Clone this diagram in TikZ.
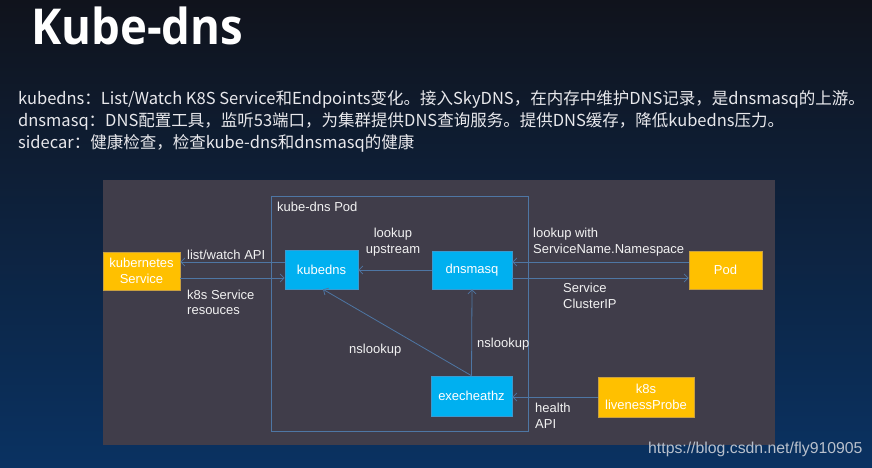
\documentclass[tikz,border=0pt]{standalone}
\usepackage{fontspec}
\usepackage{graphicx}
\setmainfont{Liberation Sans}
\newfontfamily\cjkfont{Noto Sans CJK SC}
\newfontfamily\titlefont{Open Sans}
\usetikzlibrary{arrows.meta}
\definecolor{panel}{HTML}{403D4A}
\definecolor{edge}{HTML}{4E76A4}
\definecolor{kyellow}{HTML}{FFC000}
\definecolor{kyellowb}{HTML}{C9A040}
\definecolor{kblue}{HTML}{00B0F0}
\definecolor{kblueb}{HTML}{3A9AD0}
\definecolor{txt}{HTML}{F2F2F2}
\definecolor{desc}{HTML}{E8E8EC}
\definecolor{bgtop}{HTML}{10131C}
\definecolor{bgmid}{HTML}{0D1626}
\definecolor{bgbot}{HTML}{0A3262}
\definecolor{wm}{HTML}{B8C0CC}
\begin{document}
\begin{tikzpicture}[x=1pt,y=-1pt,
  box/.style={rectangle, inner sep=0, line width=0.6pt, text=white,
    font=\fontsize{13}{15.5}\selectfont, align=center},
  ybox/.style={box, fill=kyellow, draw=kyellowb},
  bbox/.style={box, fill=kblue, draw=kblueb},
  lbl/.style={inner sep=0, text=txt, font=\fontsize{13}{15.5}\selectfont, align=left, anchor=base west},
  arr/.style={draw=edge, line width=0.8pt, -{Straight Barb[length=4pt,width=8pt]}},
  descline/.style={inner sep=0, anchor=base west, text=desc, font=\cjkfont\fontsize{16.5}{20}\selectfont}
]
\shade[top color=bgtop, middle color=bgmid, bottom color=bgbot] (0,0) rectangle (872,468);
\useasboundingbox (0,0) rectangle (872,468);

% title
\node[inner sep=0, anchor=base west, text=white] (title) at (31,45)
  {\scalebox{0.92}[1]{\titlefont\bfseries\fontsize{49.5}{55}\selectfont Kube-dns}};

% description
\node[descline] (d1) at (18,105) {kubedns：List/Watch K8S Service和Endpoints变化。接入SkyDNS，在内存中维护DNS记录，是dnsmasq的上游。};
\node[descline] (d2) at (18,126.5) {dnsmasq：DNS配置工具，监听53端口，为集群提供DNS查询服务。提供DNS缓存，降低kubedns压力。};
\node[descline] (d3) at (18,148) {sidecar：健康检查，检查kube-dns和dnsmasq的健康};

% panel
\fill[panel] (103,180) rectangle (775,445);
\node[draw=edge, line width=0.8pt, inner sep=0, minimum width=257pt, minimum height=235pt, anchor=north west] (podbox) at (271,196) {};
\node[lbl] (podlbl) at (277,211) {kube-dns Pod};

% boxes
\node[ybox, minimum width=77pt, minimum height=38pt] (ks) at (141.5,271) {kubernetes\\Service};
\node[bbox, minimum width=73pt, minimum height=39pt] (kubedns) at (321.5,269.5) {kubedns};
\node[bbox, minimum width=80pt, minimum height=38pt] (dnsmasq) at (472,270) {dnsmasq};
\node[ybox, minimum width=73pt, minimum height=38pt] (pod) at (725.5,270) {Pod};
\node[bbox, minimum width=81pt, minimum height=40pt] (exec) at (471.5,396) {execheathz};
\node[ybox, minimum width=96pt, minimum height=40pt] (probe) at (646,397) {k8s\\livenessProbe};

% connectors
\draw[arr] (kubedns.west |- 0,262) -- (ks.east |- 0,262);
\draw[arr] (ks.east |- 0,278) -- (kubedns.west |- 0,278);
\draw[arr] (dnsmasq.west |- 0,270) -- (kubedns.east |- 0,270);
\draw[arr] (pod.west |- 0,262) -- (dnsmasq.east |- 0,262);
\draw[arr] (dnsmasq.east |- 0,278) -- (pod.west |- 0,278);
\coordinate (ex) at (exec.north);
\draw[arr] (ex) -- (kubedns.south -| 323,0);
\draw[arr] (ex) -- (dnsmasq.south);
\draw[arr] (probe.west |- 0,397) -- (exec.east |- 0,397);

% labels (base anchor = baseline of last line)
\node[lbl] (l1) at (187,259) {list/watch API};
\node[lbl] (l2) at (187,314.5) {k8s Service\\resouces};
\node[lbl, align=center, anchor=base] (l3) at (393,253) {lookup\\upstream};
\node[lbl] (l4) at (533,253) {lookup with\\ServiceName.Namespace};
\node[lbl] (l5) at (563,308) {Service\\ClusterIP};
\node[lbl] (l6) at (349,353) {nslookup};
\node[lbl] (l7) at (477,347) {nslookup};
\node[lbl] (l8) at (535,428) {health\\API};

% watermark
\node[inner sep=0, anchor=base west, text=wm, font=\fontsize{15.8}{18}\selectfont] (wmk) at (648,453) {https://blog.csdn.net/fly910905};
\end{tikzpicture}
\end{document}
